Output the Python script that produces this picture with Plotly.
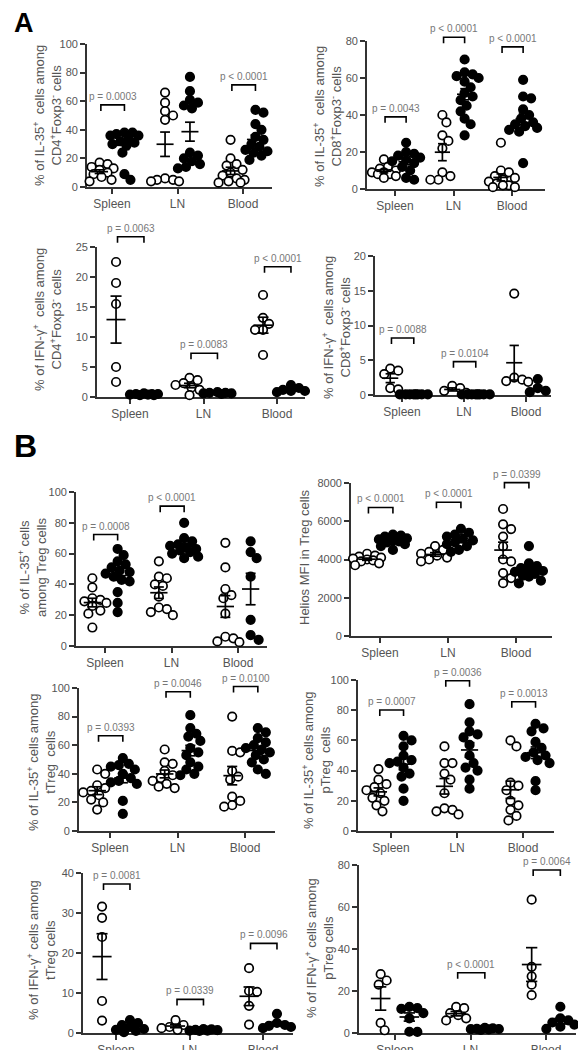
import numpy as np
import plotly.graph_objects as go

W, H = 578, 1050
FONT = "Liberation Sans, Arial, sans-serif"

CATEGORIES = ["Spleen", "LN", "Blood"]

# ---------------- data ----------------
# A1: % of IL-35+ cells among CD4+Foxp3- cells
A1_OPEN = [[17, 16, 14, 13, 12, 11, 10, 9, 7, 5, 4],
           [66, 59, 53, 50, 47, 6, 5, 5, 4, 4],
           [33, 20, 16, 15, 12, 10, 8, 6, 5, 4, 3, 3]]
A1_FILLED = [[38, 38, 37, 36, 36, 34, 32, 31, 30, 29, 24, 9, 5],
             [77, 67, 61, 59, 57, 55, 24, 22, 20, 18, 16, 14, 13],
             [54, 52, 44, 40, 35, 33, 30, 28, 26, 25, 24, 22, 19]]
A1_P = ["p = 0.0003", None, "p < 0.0001"]

# A2: % of IL-35+ cells among CD8+Foxp3- cells
A2_OPEN = [[16, 12, 11, 10, 9, 9, 8, 8, 7, 6],
           [40, 36, 29, 26, 22, 9, 7, 5, 5],
           [25, 10, 9, 7, 6, 5, 4, 3, 2, 2, 1, 1]]
A2_FILLED = [[25, 20, 19, 18, 17, 16, 15, 14, 12, 10, 6, 5],
             [70, 63, 62, 61, 60, 58, 55, 52, 50, 48, 45, 42, 38, 35, 29],
             [59, 50, 49, 43, 40, 38, 36, 35, 34, 33, 32, 31, 14]]
A2_P = ["p = 0.0043", "p < 0.0001", "p < 0.0001"]

# A3: % of IFN-g+ cells among CD4+Foxp3- cells
A3_OPEN = [[22.5, 19, 15.5, 5, 2.5],
           [3.2, 2.8, 2.3, 2.0, 1.6, 1.2, 0.3],
           [17, 13.2, 12.2, 11.2, 11.2, 7]]
A3_FILLED = [[0.3, 0.4, 0.5, 0.5, 0.6, 0.4, 0.5, 0.3],
             [0.8, 0.7, 0.6, 0.6, 0.5, 0.7],
             [2.0, 1.5, 1.2, 1.0, 0.8, 1.0]]
A3_P = ["p = 0.0063", "p = 0.0083", "p < 0.0001"]

# A4: % of IFN-g+ cells among CD8+Foxp3- cells
A4_OPEN = [[3.8, 3.5, 3.0, 1.0, 0.8],
           [1.3, 1.0, 0.6, 0.3],
           [14.6, 2.5, 2.2, 1.9, 2.0]]
A4_FILLED = [[0.1, 0.1, 0.1, 0.1, 0.1, 0.1, 0.1, 0.1],
             [0.1, 0.1, 0.1, 0.1, 0.1, 0.1, 0.1, 0.1],
             [2.3, 1.0, 0.6, 0.4, 0.3]]
A4_P = ["p = 0.0088", "p = 0.0104", None]

# B1: % of IL-35+ cells among Treg cells
B1_OPEN = [[44, 38, 31, 30, 29, 28, 26, 23, 21, 12],
           [55, 45, 44, 40, 39, 32, 25, 24, 22, 20],
           [67, 51, 37, 33, 31, 21, 6, 5, 3, 2.5]]
B1_FILLED = [[63, 59, 55, 53, 51, 49, 48, 47, 45, 43, 42, 35, 28, 22],
             [80, 70, 68, 66, 65, 64, 63, 62, 61, 60, 58, 57],
             [68, 61, 57, 45, 17, 7, 4]]
B1_P = ["p = 0.0008", "p < 0.0001", None]

# B2: Helios MFI in Treg cells
B2_OPEN = [[4300, 4200, 4150, 4100, 4050, 4000, 3950, 3900, 3800, 3700],
           [4700, 4500, 4400, 4300, 4200, 4100, 4000, 3900],
           [6640, 5840, 5590, 5200, 4680, 4000, 3900, 3290, 3030, 2760]]
B2_FILLED = [[5300, 5250, 5200, 5100, 5050, 5000, 4950, 4900, 4800, 4700, 4500],
             [5600, 5400, 5300, 5200, 5100, 5000, 4900, 4800, 4700, 4500, 4400],
             [4700, 3800, 3650, 3550, 3450, 3400, 3350, 3250, 3150, 3100, 2900, 2750]]
B2_P = ["p < 0.0001", "p < 0.0001", "p = 0.0399"]

# B3: % of IL-35+ cells among tTreg cells
B3_OPEN = [[43, 40, 32, 30, 28, 27, 25, 22, 20, 15],
           [57, 48, 47, 42, 39, 37, 35, 33, 31, 30],
           [80, 56, 55, 42, 38, 36, 24, 21, 18, 17]]
B3_FILLED = [[51, 47, 46, 45, 43, 40, 37, 35, 34, 33, 21, 12],
             [81, 72, 68, 66, 63, 58, 55, 53, 48, 45, 43, 40, 39],
             [72, 69, 65, 62, 60, 58, 57, 55, 53, 50, 48, 43, 40]]
B3_P = ["p = 0.0393", "p = 0.0046", "p = 0.0100"]

# B4: % of IL-35+ cells among pTreg cells
B4_OPEN = [[41, 34, 31, 29, 27, 25, 22, 20, 17, 13],
           [56, 45, 45, 38, 34, 25, 15, 14, 13, 11],
           [60, 56, 32, 30, 27, 20, 17, 14, 10, 7]]
B4_FILLED = [[63, 60, 56, 50, 47, 46, 45, 42, 38, 36, 28, 20],
             [84, 72, 66, 64, 62, 57, 50, 45, 42, 40, 34, 28],
             [71, 68, 66, 59, 55, 52, 50, 49, 47, 45, 33, 27]]
B4_P = ["p = 0.0007", "p = 0.0036", "p = 0.0013"]

# B5: % of IFN-g+ cells among tTreg cells
B5_OPEN = [[31.6, 28.8, 24, 8, 3.1],
           [3.2, 2.0, 1.5, 1.2, 0.8],
           [16.2, 10.5, 10.3, 6.8, 2.1]]
B5_FILLED = [[3.2, 2.5, 2.0, 1.5, 1.0, 0.8, 0.5, 0.2],
             [1.0, 0.9, 0.8, 0.7, 0.6, 0.6, 0.5],
             [4.8, 2.5, 2.0, 1.8, 1.5, 1.2]]
B5_P = ["p = 0.0081", "p = 0.0339", "p = 0.0096"]

# B6: % of IFN-g+ cells among pTreg cells
B6_OPEN = [[28, 25, 23, 4.8, 1.3],
           [12.4, 11.8, 9.5, 8.5, 7, 6],
           [63.5, 31.5, 27, 23, 18]]
B6_FILLED = [[12.4, 11.8, 11.5, 9.5, 7, 0.6, 0.5],
             [2.5, 2.2, 2.0, 1.9, 1.8, 1.7, 1.5],
             [12.5, 7, 6, 5, 4, 3, 2]]
B6_P = [None, "p < 0.0001", "p = 0.0064"]

# ---------------- layout geometry (pixels) ----------------
PANELS = [
    dict(o=A1_OPEN, f=A1_FILLED, p=A1_P, x0=87, c1=112, c3=243, x1=272, y0=187, yT=44, T=100, dt=20,
         br=[57.4, None, 71.4], tx=47, ty=116,
         title="% of IL-35<sup>+</sup>  cells among<br>CD4<sup>+</sup>Foxp3<sup>-</sup> cells"),
    dict(o=A2_OPEN, f=A2_FILLED, p=A2_P, x0=367, c1=395, c3=512, x1=545, y0=189, yT=41, T=80, dt=20,
         br=[39, 82, 76.8], tx=327, ty=117,
         title="% of IL-35<sup>+</sup>  cells among<br>CD8<sup>+</sup>Foxp3<sup>-</sup> cells"),
    dict(o=A3_OPEN, f=A3_FILLED, p=A3_P, x0=97, c1=130, c3=277, x1=305, y0=397, yT=247, T=25, dt=5,
         br=[26.7, 7.3, 21.7], tx=47, ty=320,
         title="% of IFN-γ<sup>+</sup>  cells among<br>CD4<sup>+</sup>Foxp3<sup>-</sup> cells"),
    dict(o=A4_OPEN, f=A4_FILLED, p=A4_P, x0=375, c1=402, c3=526, x1=551, y0=395, yT=256, T=20, dt=5,
         br=[8.2, 4.8, None], tx=336, ty=328,
         title="% of IFN-γ<sup>+</sup>  cells among<br>CD8<sup>+</sup>Foxp3<sup>-</sup> cells"),
    dict(o=B1_OPEN, f=B1_FILLED, p=B1_P, x0=76, c1=105, c3=238, x1=267, y0=646, yT=492, T=100, dt=20,
         br=[72.4, 90.8, None], tx=32, ty=568,
         title="% of IL-35<sup>+</sup> cells<br>among Treg cells"),
    dict(o=B2_OPEN, f=B2_FILLED, p=B2_P, x0=351, c1=380, c3=516, x1=552, y0=636, yT=483, T=8000, dt=2000,
         br=[6720, 6990, 8020], tx=304, ty=557,
         title="Helios MFI in Treg cells"),
    dict(o=B3_OPEN, f=B3_FILLED, p=B3_P, x0=79, c1=110, c3=245, x1=275, y0=831, yT=688, T=100, dt=20,
         br=[66.6, 97.4, 101], tx=41, ty=762,
         title="% of IL-35<sup>+</sup> cells among<br>tTreg  cells"),
    dict(o=B4_OPEN, f=B4_FILLED, p=B4_P, x0=358, c1=391, c3=523, x1=554, y0=831, yT=680, T=100, dt=20,
         br=[80.1, 99.5, 85.6], tx=316, ty=760,
         title="% of IL-35<sup>+</sup> cells among<br>pTreg  cells"),
    dict(o=B5_OPEN, f=B5_FILLED, p=B5_P, x0=83, c1=116, c3=263, x1=293, y0=1033, yT=873, T=40, dt=10,
         br=[37.25, 8.4, 22.4], tx=41, ty=950,
         title="% of IFN-γ<sup>+</sup> cells among<br>tTreg cells"),
    dict(o=B6_OPEN, f=B6_FILLED, p=B6_P, x0=359, c1=395, c3=546, x1=576, y0=1033, yT=865, T=80, dt=20,
         br=[None, 28.7, 77.6], tx=320, ty=948,
         title="% of IFN-γ<sup>+</sup> cells among<br>pTreg cells"),
]

OFF = 0.19
DIAM = 8.5
AXC = "#333333"
TXC = "#555555"
PC = "#777777"


def swarm(vals, xc, ppx, ppy, mind=8.0, step=2.0, maxs=14.0):
    """Horizontal spread of overlapping points, limited to +/- maxs pixels."""
    vals = np.asarray(vals, float)
    order = np.argsort(-vals, kind="stable")
    placed = []
    xs = np.zeros(len(vals))
    cands = [0.0]
    k = 1
    while k * step <= maxs:
        cands += [k * step, -k * step]
        k += 1
    for i in order:
        yp = vals[i] * ppy
        best, bestd = 0.0, -1.0
        chosen = None
        for c in cands:
            d = min([np.hypot(c - a, yp - b) for a, b in placed] + [1e9])
            if d >= mind:
                chosen = c
                break
            if d > bestd + 0.5:
                best, bestd = c, d
        if chosen is None:
            chosen = best
        placed.append((chosen, yp))
        xs[i] = xc + chosen / ppx
    return xs


fig = go.Figure()
shapes = []
annotations = []

for n, P in enumerate(PANELS, start=1):
    xa = "x" if n == 1 else f"x{n}"
    ya = "y" if n == 1 else f"y{n}"
    sp = (P["c3"] - P["c1"]) / 2.0
    r0 = 1 - (P["c1"] - P["x0"]) / sp
    r1 = 3 + (P["x1"] - P["c3"]) / sp
    ppy = (P["y0"] - P["yT"]) / P["T"]

    def ypix(v):
        return P["y0"] - ppy * v

    for groups, filled in [(P["o"], False), (P["f"], True)]:
        xs_all, ys_all = [], []
        for ci, vals in enumerate(groups):
            xc = ci + 1 + (OFF if filled else -OFF)
            xs_all += list(swarm(vals, xc, sp, ppy))
            ys_all += list(vals)
        fig.add_trace(go.Scatter(
            x=xs_all, y=ys_all, mode="markers", xaxis=xa, yaxis=ya, cliponaxis=False,
            marker=dict(symbol="circle", size=DIAM,
                        color="black" if filled else "white",
                        line=dict(color="black", width=1.7)),
            hoverinfo="skip"))

    # mean +/- SEM
    lx, ly = [], []
    for groups, filled in [(P["o"], False), (P["f"], True)]:
        for ci, vals in enumerate(groups):
            v = np.asarray(vals, float)
            m = v.mean()
            s = v.std(ddof=1) / np.sqrt(len(v))
            xc = ci + 1 + (OFF if filled else -OFF)
            lx += [xc - 0.13, xc + 0.13, None, xc, xc, None,
                   xc - 0.075, xc + 0.075, None, xc - 0.075, xc + 0.075, None]
            ly += [m, m, None, m - s, m + s, None,
                   m + s, m + s, None, m - s, m - s, None]
    fig.add_trace(go.Scatter(x=lx, y=ly, mode="lines", xaxis=xa, yaxis=ya,
                             line=dict(color="black", width=1.7), hoverinfo="skip"))

    # brackets and p-values
    for ci, (b, txt) in enumerate(zip(P["br"], P["p"])):
        if b is None or txt is None:
            continue
        c = ci + 1
        yb = 1 - ypix(b) / H
        yl = 1 - (ypix(b) + 6) / H
        shapes.append(dict(type="path", xref=xa, yref="paper",
                           path=f"M {c - 0.17},{yl} L {c - 0.17},{yb} L {c + 0.19},{yb} L {c + 0.19},{yl}",
                           line=dict(color="black", width=1.6)))
        annotations.append(dict(x=c + 0.01, y=yb, xref=xa, yref="paper", text=txt, showarrow=False,
                                xanchor="center", yanchor="bottom", yshift=1,
                                font=dict(family=FONT, size=10, color=PC)))

    # y title
    annotations.append(dict(x=P["tx"] / W, y=1 - P["ty"] / H, xref="paper", yref="paper",
                            text=P["title"], showarrow=False, textangle=-90,
                            xanchor="center", yanchor="middle", align="center",
                            font=dict(family=FONT, size=13, color=TXC)))

    tv = list(range(0, P["T"] + P["dt"], P["dt"]))
    fig.update_layout(**{
        ("xaxis" if n == 1 else f"xaxis{n}"): dict(
            domain=[P["x0"] / W, P["x1"] / W], range=[r0, r1], anchor=ya, automargin=False,
            showgrid=False, zeroline=False, showline=True, linecolor=AXC, linewidth=1.7,
            tickmode="array", tickvals=[1, 2, 3], ticktext=CATEGORIES,
            ticks="outside", ticklen=5, tickwidth=1.5, tickcolor=AXC,
            tickfont=dict(family=FONT, size=12, color=TXC), layer="below traces", fixedrange=True),
        ("yaxis" if n == 1 else f"yaxis{n}"): dict(
            domain=[1 - P["y0"] / H, 1 - P["yT"] / H], range=[0, P["T"]], anchor=xa, automargin=False,
            showgrid=False, zeroline=False, showline=True, linecolor=AXC, linewidth=1.7,
            tickmode="array", tickvals=tv, ticktext=[str(t) for t in tv],
            ticks="outside", ticklen=5, tickwidth=1.5, tickcolor=AXC,
            tickfont=dict(family=FONT, size=11, color=TXC), layer="below traces", fixedrange=True),
    })

# panel letters
annotations.append(dict(x=12 / W, y=1 - 23 / H, xref="paper", yref="paper", text="<b>A</b>",
                        showarrow=False, xanchor="left", yanchor="middle",
                        font=dict(family=FONT, size=27, color="black")))
annotations.append(dict(x=12 / W, y=1 - 446 / H, xref="paper", yref="paper", text="<b>B</b>",
                        showarrow=False, xanchor="left", yanchor="middle",
                        font=dict(family=FONT, size=32, color="black")))

fig.update_layout(width=W, height=H, margin=dict(l=0, r=0, t=0, b=0, autoexpand=False),
                  paper_bgcolor="white", plot_bgcolor="rgba(0,0,0,0)",
                  showlegend=False, shapes=shapes, annotations=annotations)

PIN = ("document.documentElement.style.margin='0';document.body.style.margin='0';"
       "document.body.style.padding='0';document.body.style.overflow='hidden';"
       "var d=document.querySelector('.plotly-graph-div');"
       "d.style.position='fixed';d.style.left='0px';d.style.top='0px';")

fig.write_html("out.html", config={"displayModeBar": False, "responsive": False},
               post_script=PIN)
